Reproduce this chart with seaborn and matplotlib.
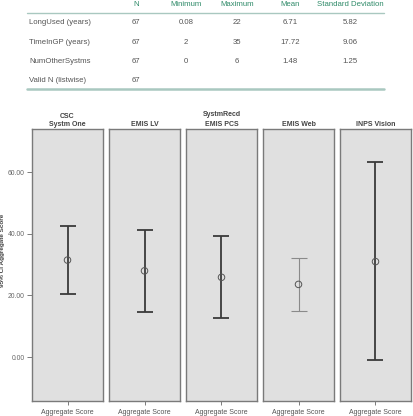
import matplotlib
matplotlib.use("Agg")
import matplotlib.pyplot as plt
import seaborn as sns
import pandas as pd

# ---- table data ----
col_headers = ["N", "Minimum", "Maximum", "Mean", "Standard Deviation"]
row_labels = ["LongUsed (years)", "TimeInGP (years)", "NumOtherSystms", "Valid N (listwise)"]
col_N = ["67", "67", "67", "67"]
col_min = ["0.08", "2", "0", ""]
col_max = ["22", "35", "6", ""]
col_mean = ["6.71", "17.72", "1.48", ""]
col_sd = ["5.82", "9.06", "1.25", ""]

# ---- chart data ----
systems = ["CSC\nSystm One", "EMIS LV", "EMIS PCS", "EMIS Web", "INPS Vision"]
ci_mean = [31.5, 28.0, 25.9, 23.6, 31.0]
ci_low = [20.6, 14.7, 12.7, 15.1, -1.0]
ci_high = [42.6, 41.2, 39.2, 32.2, 63.4]
yticks = [0, 20, 40, 60]

sns.set_style("white")
plt.rcParams["font.family"] = ["Liberation Sans", "DejaVu Sans"]

W, H = 414, 416
fig = plt.figure(figsize=(W / 100, H / 100), dpi=100)

def fx(x):
    return x / W

def fy(y):
    return 1 - y / H

# ---- table ----
green = "#2e8a68"
line_c = "#a9c8c0"
col_x = [136, 186, 237, 290, 350]
hdr_y = 4
row_y = [23, 42, 61.3, 80.3]
for cx, h in zip(col_x, col_headers):
    fig.text(fx(cx), fy(hdr_y), h, ha="center", va="center", fontsize=5.6, color=green)
fig.add_artist(plt.Line2D([fx(27), fx(384)], [fy(12.7), fy(12.7)], color=line_c, lw=1.0))
fig.add_artist(plt.Line2D([fx(27), fx(384)], [fy(89.3), fy(89.3)], color=line_c, lw=1.8))
cols = [col_N, col_min, col_max, col_mean, col_sd]
for i, (lab, ry) in enumerate(zip(row_labels, row_y)):
    fig.text(fx(29), fy(ry), lab, ha="left", va="center", fontsize=5.6, color="#555555")
    for cx, col in zip(col_x, cols):
        if col[i]:
            fig.text(fx(cx), fy(ry), col[i], ha="center", va="center", fontsize=5.6, color="#555555")

# ---- panels ----
lefts = [32, 109, 186, 263, 340]
pw = 71
top, bottom = 129, 401
ymin, ymax = -14.3, 74.1
for i, name in enumerate(systems):
    ax = fig.add_axes([fx(lefts[i]), fy(bottom), fx(pw), (bottom - top) / H])
    ax.set_facecolor("#e0e0e0")
    for s in ax.spines.values():
        s.set_color("#7a7a7a")
        s.set_linewidth(1.0)
    light = (i == 3)
    col = "#8a8a8a" if light else "#3a3a3a"
    lw = 0.8 if light else 1.3
    ax.errorbar([0], [ci_mean[i]],
                yerr=[[ci_mean[i] - ci_low[i]], [ci_high[i] - ci_mean[i]]],
                fmt="none", ecolor=col, elinewidth=lw, capsize=5.8, capthick=lw)
    df = pd.DataFrame({"x": [0], "y": [ci_mean[i]]})
    sns.scatterplot(data=df, x="x", y="y", ax=ax, marker="o", s=22,
                    facecolor="none", edgecolor="#555555", linewidth=0.7, zorder=5)
    ax.set_xlim(-1, 1)
    ax.set_ylim(ymin, ymax)
    ax.set_xticks([0])
    ax.set_xticklabels(["Aggregate Score"], fontsize=5.0, color="#555555")
    ax.tick_params(axis="x", length=3, width=0.6, color="#666666", pad=3, bottom=True)
    ax.set_xlabel("")
    ax.set_ylabel("")
    if i == 0:
        ax.set_yticks(yticks)
        ax.set_yticklabels([f"{v:.2f}" for v in yticks], fontsize=4.9, color="#666666")
        ax.tick_params(axis="y", length=3.6, width=0.6, color="#666666", pad=1.5, left=True)
    else:
        ax.set_yticks([])
    ax.set_title(name, fontsize=5.0, fontweight="bold", color="#444444", pad=2.5,
                 linespacing=1.1)

fig.text(fx(222), fy(114), "SystmRecd", ha="center", va="center", fontsize=5.0,
         fontweight="bold", color="#444444")
fig.text(fx(3), fy(250), "95% CI Aggregate Score", ha="center", va="center", rotation=90,
         fontsize=4.6, fontweight="bold", color="#444444")

fig.savefig("out.png", dpi=100, facecolor="white")
